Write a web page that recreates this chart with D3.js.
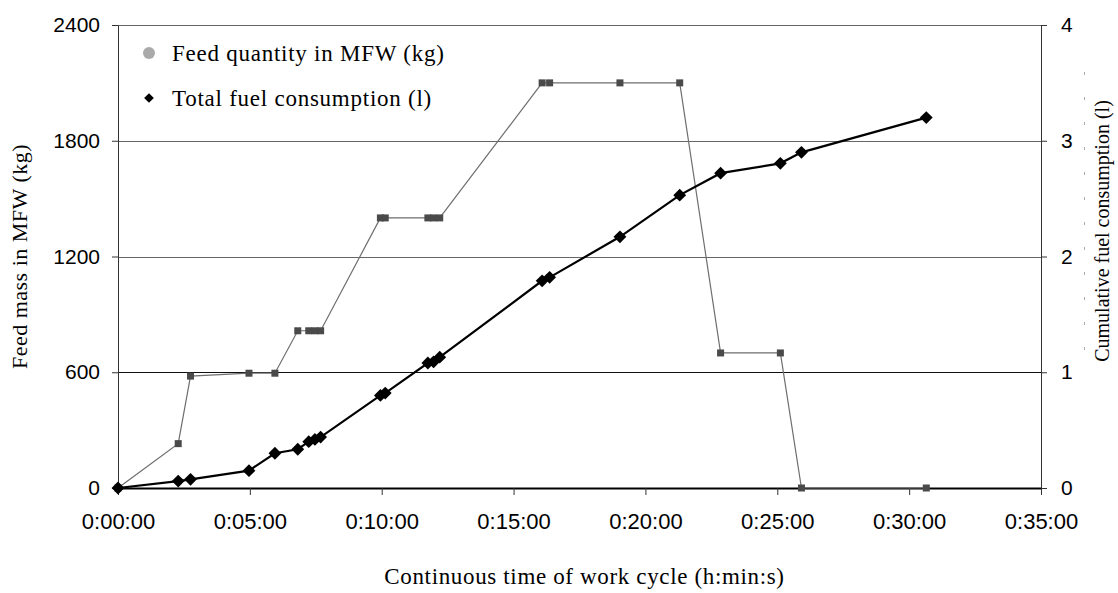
<!DOCTYPE html>
<html>
<head>
<meta charset="utf-8">
<script src="https://cdn.jsdelivr.net/npm/d3@7"></script>
<style>
  body { margin: 0; background: #fff; }
  .tick text { font-family: "Liberation Sans", Arial, sans-serif; }
</style>
</head>
<body>
<div id="wrapper"></div>
<script>
// observation times (h:mm:ss), shared by both series
const times = ["0:00:00", "0:02:17", "0:02:45", "0:04:58", "0:05:57", "0:06:49",
  "0:07:14", "0:07:28", "0:07:41", "0:09:57", "0:10:08", "0:11:45", "0:11:58",
  "0:12:12", "0:16:05", "0:16:22", "0:19:02", "0:21:18", "0:22:51", "0:25:07",
  "0:25:55", "0:30:39"];
// feed quantity in mixer feed wagon (kg)
const feedKg = [0, 230, 580, 595, 595, 815, 815, 815, 815, 1400, 1400, 1400, 1400,
  1400, 2100, 2100, 2100, 2100, 700, 700, 0, 0];
// cumulative fuel consumption (l)
const fuelL = [0, 0.06, 0.075, 0.15, 0.30, 0.335, 0.40, 0.42, 0.44, 0.80, 0.82,
  1.08, 1.09, 1.13, 1.79, 1.82, 2.17, 2.53, 2.72, 2.805, 2.90, 3.20];

const xTicks = ["0:00:00", "0:05:00", "0:10:00", "0:15:00", "0:20:00", "0:25:00", "0:30:00", "0:35:00"];
const leftTicks = [0, 600, 1200, 1800, 2400];
const rightTicks = [0, 1, 2, 3, 4];
const legendLabels = ["Feed quantity in MFW (kg)", "Total fuel consumption (l)"];

const toSec = s => {
  const [h, m, sec] = s.split(":").map(Number);
  return h * 3600 + m * 60 + sec;
};
const fmtTime = v => {
  const h = Math.floor(v / 3600), m = Math.floor(v % 3600 / 60), s = v % 60;
  return `${h}:${String(m).padStart(2, "0")}:${String(s).padStart(2, "0")}`;
};

const data = times.map((t, i) => ({ t: toSec(t), feed: feedKg[i], fuel: fuelL[i] }));

const dimensions = {
  width: 1118,
  height: 593,
  margins: { top: 25, left: 118, bottom: 105, right: 77 }
};
dimensions.boundedWidth = dimensions.width - dimensions.margins.left - dimensions.margins.right;
dimensions.boundedHeight = dimensions.height - dimensions.margins.top - dimensions.margins.bottom;

const svg = d3.select("#wrapper").append("svg")
  .attr("width", dimensions.width)
  .attr("height", dimensions.height);

const bounds = svg.append("g")
  .attr("transform", `translate(${dimensions.margins.left},${dimensions.margins.top})`);

const xScale = d3.scaleLinear()
  .domain([0, toSec("0:35:00")])
  .range([0, dimensions.boundedWidth]);
const yLeft = d3.scaleLinear()
  .domain([0, 2400])
  .range([dimensions.boundedHeight, 0]);
const yRight = d3.scaleLinear()
  .domain([0, 4])
  .range([dimensions.boundedHeight, 0]);

// gridlines
bounds.append("g")
  .selectAll("line")
  .data(leftTicks.slice(1))
  .join("line")
  .attr("x1", 0)
  .attr("x2", dimensions.boundedWidth)
  .attr("y1", d => Math.round(yLeft(d)) + 0.5)
  .attr("y2", d => Math.round(yLeft(d)) + 0.5)
  .attr("stroke", d => d === 600 ? "#111" : "#666")
  .attr("stroke-width", 1);

// axes
const xAxis = bounds.append("g")
  .attr("transform", `translate(0,${dimensions.boundedHeight})`)
  .call(d3.axisBottom(xScale).tickValues(xTicks.map(toSec)).tickFormat(fmtTime).tickSize(7).tickSizeOuter(0));
xAxis.selectAll("text").attr("font-size", 22).attr("y", 41).attr("dy", 0).attr("fill", "#000");

const leftAxis = bounds.append("g")
  .call(d3.axisLeft(yLeft).tickValues(leftTicks).tickFormat(d3.format("d")).tickSize(6).tickSizeOuter(0));
leftAxis.selectAll("text").attr("font-size", 21).attr("x", -18).attr("fill", "#000");

const rightAxis = bounds.append("g")
  .attr("transform", `translate(${dimensions.boundedWidth},0)`)
  .call(d3.axisRight(yRight).tickValues(rightTicks).tickFormat(d3.format("d")).tickSize(6).tickSizeOuter(0));
rightAxis.selectAll("text").attr("font-size", 21).attr("x", 20).attr("fill", "#000");

svg.selectAll(".domain").attr("stroke", "#333");
xAxis.select(".domain").attr("stroke", "#000").attr("stroke-width", 2);
svg.selectAll(".tick line").attr("stroke", "#333");

// feed quantity series
const feedLine = d3.line()
  .x(d => xScale(d.t))
  .y(d => yLeft(d.feed));
bounds.append("path")
  .attr("d", feedLine(data))
  .attr("fill", "none")
  .attr("stroke", "#6e6e6e")
  .attr("stroke-width", 1.2);
bounds.append("g")
  .selectAll("rect")
  .data(data)
  .join("rect")
  .attr("x", d => xScale(d.t) - 3.5)
  .attr("y", d => yLeft(d.feed) - 3.5)
  .attr("width", 7)
  .attr("height", 7)
  .attr("fill", "#4a4a4a");

// fuel consumption series
const fuelLine = d3.line()
  .x(d => xScale(d.t))
  .y(d => yRight(d.fuel));
bounds.append("path")
  .attr("d", fuelLine(data))
  .attr("fill", "none")
  .attr("stroke", "#000")
  .attr("stroke-width", 2.2);
const diamond = d3.symbol().type(d3.symbolDiamond2).size(105);
bounds.append("g")
  .selectAll("path")
  .data(data)
  .join("path")
  .attr("d", diamond)
  .attr("transform", d => `translate(${xScale(d.t)},${yRight(d.fuel)})`)
  .attr("fill", "#000");

// legend
const serif = "'Liberation Serif', 'Times New Roman', serif";
const legend = bounds.append("g")
  .attr("transform", "translate(31,0)")
  .style("font-family", serif)
  .style("font-size", "23px")
  .style("letter-spacing", "0.75px");
legend.append("circle")
  .attr("cx", 0).attr("cy", 28).attr("r", 6)
  .attr("fill", "#aaa");
legend.append("path")
  .attr("d", d3.symbol().type(d3.symbolDiamond2).size(60))
  .attr("transform", "translate(0,73)")
  .attr("fill", "#000");
legend.selectAll("text")
  .data(legendLabels)
  .join("text")
  .attr("x", 23)
  .attr("y", (d, i) => 28 + i * 45)
  .attr("dy", "0.33em")
  .text(d => d);

// axis titles
svg.append("text")
  .attr("transform", `translate(27,${dimensions.margins.top + dimensions.boundedHeight / 2}) rotate(-90)`)
  .attr("text-anchor", "middle")
  .attr("font-family", serif)
  .attr("font-size", 22)
  .attr("letter-spacing", "0.5px")
  .text("Feed mass in MFW (kg)");

svg.append("text")
  .attr("transform", "translate(1102,231) rotate(-90)")
  .attr("text-anchor", "middle")
  .attr("dy", "0.33em")
  .attr("font-family", serif)
  .attr("font-size", 20)
  .text("Cumulative fuel consumption (l)");

svg.append("line")
  .attr("x1", 1084.5).attr("x2", 1084.5)
  .attr("y1", 72).attr("y2", 372)
  .attr("stroke", "#aaa")
  .attr("stroke-dasharray", "3,22");

svg.append("text")
  .attr("x", dimensions.margins.left + dimensions.boundedWidth / 2 + 5)
  .attr("y", 584)
  .attr("text-anchor", "middle")
  .attr("font-family", serif)
  .attr("font-size", 23)
  .attr("letter-spacing", "0.65px")
  .text("Continuous time of work cycle (h:min:s)");
</script>
</body>
</html>
